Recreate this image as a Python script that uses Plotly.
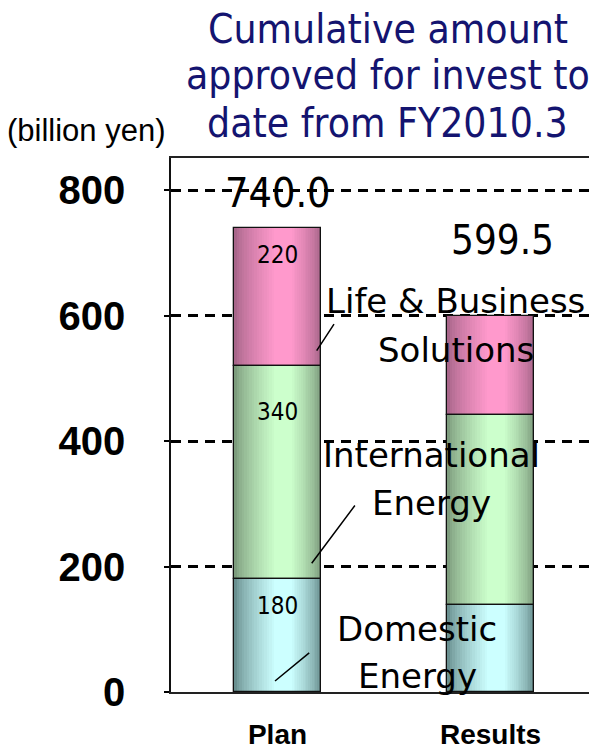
import plotly.graph_objects as go

# ---- data ----
categories = ["Plan", "Results"]
domestic = [180, 138]
international = [340, 304]
life = [220, 157.5]
totals = [740.0, 599.5]
segment_names = ["Domestic Energy", "International Energy", "Life & Business Solutions"]
plan_segment_labels = ["180", "340", "220"]
y_ticks = [0, 200, 400, 600, 800]
title_lines = ["Cumulative amount", "approved for invest to", "date from FY2010.3"]
unit_label = "(billion yen)"

# ---- styles ----
COND = "DejaVu Sans Condensed, DejaVu Sans"
REG = "DejaVu Sans"
BAR_W = 0.408
LIGHT_AT = 0.58          # position of the lightest stripe across the bar (0..1)
N_LAYERS = 20
seg_colors = [
    ("#6a9090", "#ccffff"),   # domestic: edge, centre
    ("#7d9c7d", "#ccffcc"),   # international
    ("#a8668a", "#ff99cc"),   # life
]


def mix(c1, c2, t):
    a = [int(c1[i:i + 2], 16) for i in (1, 3, 5)]
    b = [int(c2[i:i + 2], 16) for i in (1, 3, 5)]
    return "#%02x%02x%02x" % tuple(round(a[j] + (b[j] - a[j]) * t) for j in range(3))


series = [domestic, international, life]
xs = list(range(len(categories)))
fig = go.Figure()

bases = []
run = [0.0] * len(categories)
for vals in series:
    bases.append(list(run))
    run = [run[i] + vals[i] for i in range(len(categories))]

# gradient-like fill: nested bars shrinking towards the light stripe
for s, vals in enumerate(series):
    edge, centre = seg_colors[s]
    for k in range(N_LAYERS):
        f = k / N_LAYERS
        w = BAR_W * (1 - f)
        off = -BAR_W / 2 + LIGHT_AT * BAR_W * f
        t = min(1.0, f / 0.8) ** 0.75
        fig.add_trace(go.Bar(
            x=xs, y=vals, base=bases[s], width=w, offset=off,
            marker=dict(color=mix(edge, centre, t), line=dict(width=0)),
            hoverinfo="skip", showlegend=False,
        ))

# outlines
for s, vals in enumerate(series):
    fig.add_trace(go.Bar(
        x=xs, y=vals, base=bases[s], width=BAR_W, name=segment_names[s],
        marker=dict(color="rgba(0,0,0,0)", line=dict(color="#111111", width=1.3)),
        showlegend=False,
    ))

ann = []
# values inside the Plan bar
shifts = [-26.7, -46, -27.8]
for s in range(3):
    top = bases[s][0] + series[s][0]
    ann.append(dict(x=0, y=top, xref="x", yref="y", text=plan_segment_labels[s],
                    showarrow=False, yanchor="middle", yshift=shifts[s],
                    font=dict(family=COND, size=24, color="#000000")))

# totals
ann.append(dict(x=0, y=totals[0], xref="x", yref="y", text=f"{totals[0]:.1f}",
                showarrow=False, yanchor="middle", yshift=34.8,
                font=dict(family=COND, size=41, color="#000000")))
ann.append(dict(x=1.054, y=totals[1], xref="x", yref="y", text=f"{totals[1]:.1f}",
                showarrow=False, yanchor="middle", yshift=76,
                font=dict(family=COND, size=40, color="#000000")))

# segment names (one annotation per line)
name_lines = [
    ("Life & Business", 0.838, 622.8), ("Solutions", 0.838, 544.7),
    ("International", 0.725, 377.4), ("Energy", 0.725, 300.9),
    ("Domestic", 0.655, 100.1), ("Energy", 0.655, 25.2),
]
for txt, px, py in name_lines:
    ann.append(dict(x=px, y=py, xref="x", yref="y", text=txt, showarrow=False,
                    xanchor="center", yanchor="middle",
                    font=dict(family=REG, size=34, color="#000000")))

# leader lines
leaders = [(-0.0117, 17.5, 35.7, -29.3), (0.1606, 205.1, 44.3, -59.3), (0.184, 543.9, 18.3, -28)]
for hx, hy, ax, ay in leaders:
    ann.append(dict(x=hx, y=hy, xref="x", yref="y", text="", showarrow=True,
                    arrowhead=0, arrowwidth=1.5, arrowcolor="#000000", ax=ax, ay=ay,
                    standoff=0, startstandoff=0))

# title lines
for txt, py in zip(title_lines, [1.2420, 1.1560, 1.0655]):
    ann.append(dict(x=0.509, y=py, xref="paper", yref="paper", text=txt,
                    showarrow=False, xanchor="center", yanchor="middle",
                    font=dict(family=COND, size=40.5, color="#141470")))

# unit label
ann.append(dict(x=-0.1995, y=1.0513, xref="paper", yref="paper", text=unit_label,
                showarrow=False, xanchor="center", yanchor="middle",
                font=dict(family="Liberation Sans", size=31, color="#000000")))

fig.update_layout(
    width=589, height=744,
    margin=dict(l=163, r=0, t=150, b=60),
    paper_bgcolor="#ffffff", plot_bgcolor="#ffffff",
    barmode="overlay", bargap=0,
    annotations=ann,
    showlegend=False,
)
fig.update_xaxes(
    tickmode="array", tickvals=xs, ticktext=categories, range=[-0.5, 1.5],
    showline=True, linecolor="#222222", linewidth=1.5, mirror=True,
    showgrid=False, ticks="", ticklabelstandoff=17,
    tickfont=dict(family="Liberation Sans", size=28, color="#000000", weight="bold"),
    zeroline=False,
)
fig.update_yaxes(
    range=[0, 851], tickvals=y_ticks,
    showline=True, linecolor="#111111", linewidth=1.5,
    ticks="outside", ticklen=5, tickcolor="#000000", tickwidth=2,
    ticklabelstandoff=31,
    showgrid=True, gridcolor="#000000", gridwidth=3, griddash="10px,7px",
    zeroline=False,
    tickfont=dict(family="Liberation Sans", size=40, color="#000000", weight="bold"),
)

fig.write_html("out.html")
